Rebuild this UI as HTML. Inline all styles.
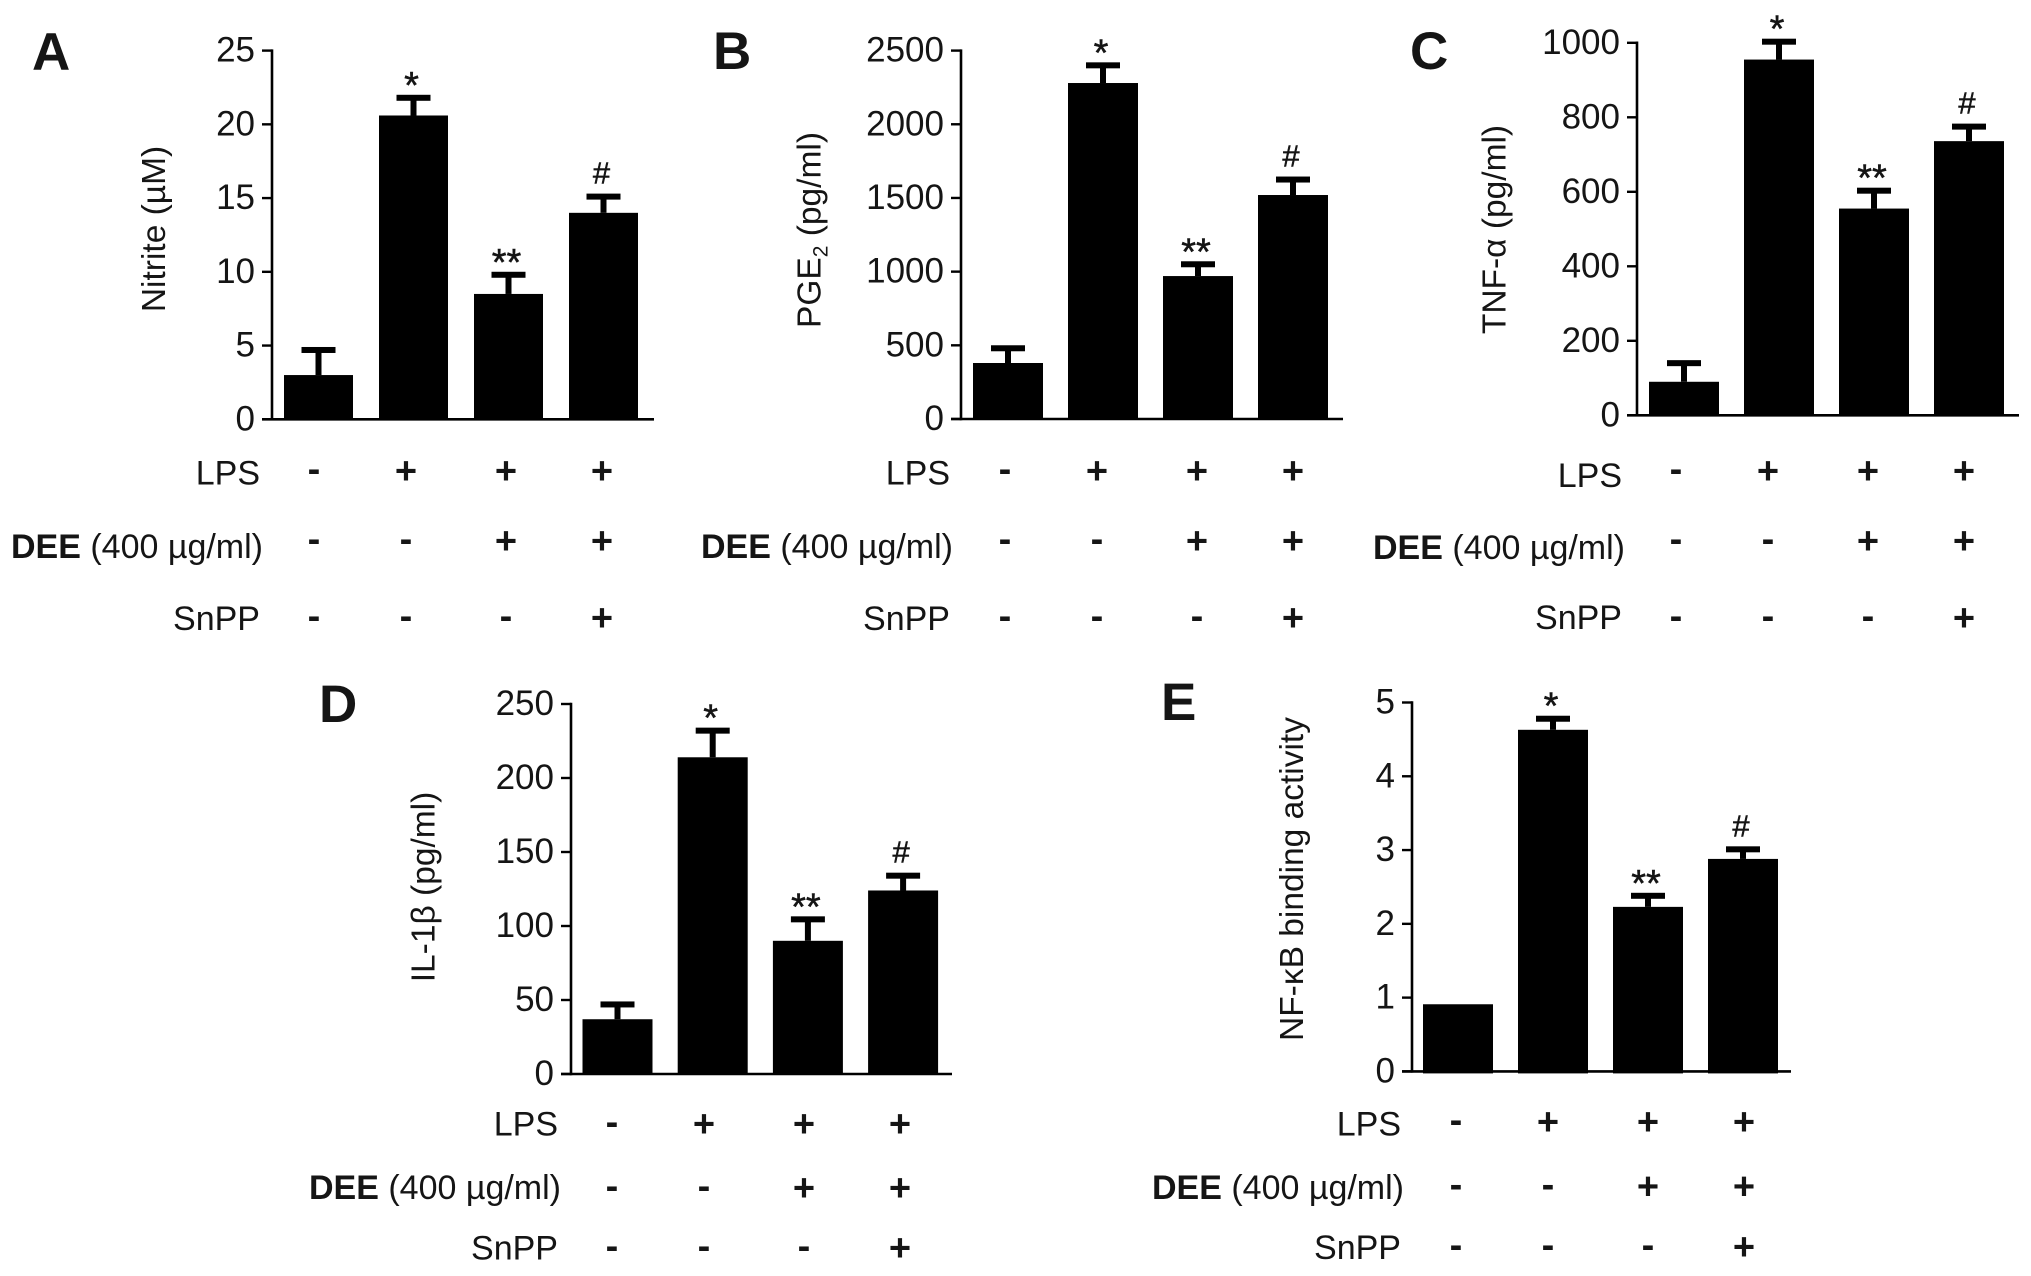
<!DOCTYPE html>
<html lang="en">
<head>
<meta charset="utf-8">
<title>Effects of DEE on inflammatory mediators</title>
<style>
html,body{margin:0;padding:0;background:#fff;}
svg{display:block;font-family:"Liberation Sans",sans-serif;fill:#151515;}
</style>
</head>
<body>
<svg id="figure" xmlns="http://www.w3.org/2000/svg" width="2031" height="1276" viewBox="0 0 2031 1276"></svg>
<script>
const treatmentGroups = ['control', 'lps', 'lps-dee', 'lps-dee-snpp'];
const lpsSigns = ['-', '+', '+', '+'];
const deeSigns = ['-', '-', '+', '+'];
const snppSigns = ['-', '-', '-', '+'];
const significanceMarks = ['', '*', '**', '#'];

const nitriteValues = [3, 20.6, 8.5, 14];
const nitriteErrors = [1.7, 1.2, 1.3, 1.1];
const nitriteTicks = [0, 5, 10, 15, 20, 25];

const pgeValues = [380, 2280, 970, 1520];
const pgeErrors = [100, 120, 80, 105];
const pgeTicks = [0, 500, 1000, 1500, 2000, 2500];

const tnfValues = [90, 955, 555, 736];
const tnfErrors = [50, 48, 48, 39];
const tnfTicks = [0, 200, 400, 600, 800, 1000];

const il1Values = [37, 214, 90, 124];
const il1Errors = [10, 18, 14.5, 10];
const il1Ticks = [0, 50, 100, 150, 200, 250];

const nfkbValues = [0.91, 4.63, 2.23, 2.88];
const nfkbErrors = [0, 0.15, 0.15, 0.13];
const nfkbTicks = [0, 1, 2, 3, 4, 5];

const panels = [
  {id:'a', letter:'A', letterX:32, letterY:70, values:nitriteValues, errors:nitriteErrors, ticks:nitriteTicks,
   axisX:272, yTop:50.6, yZero:419.3, axisRight:654, barStart:284, barStep:95, barWidth:69, barDrop:0,
   titleA:'Nitrite (µM)', titleSub:'', titleB:'', titleX:165, titleY:229,
   signStart:314, lpsY:471, deeY:541, snppY:618, labelRight:260, lpsBase:484.5, deeBase:558, snppBase:630},
  {id:'b', letter:'B', letterX:713, letterY:69, values:pgeValues, errors:pgeErrors, ticks:pgeTicks,
   axisX:961, yTop:50.6, yZero:419, axisRight:1343, barStart:973, barStep:95, barWidth:70, barDrop:0,
   titleA:'PGE', titleSub:'2', titleB:' (pg/ml)', titleX:820.5, titleY:230,
   signStart:1005, lpsY:471, deeY:541, snppY:618, labelRight:950, lpsBase:484.5, deeBase:558, snppBase:630},
  {id:'c', letter:'C', letterX:1410, letterY:69, values:tnfValues, errors:tnfErrors, ticks:tnfTicks,
   axisX:1637, yTop:42.8, yZero:415.3, axisRight:2019, barStart:1649, barStep:95, barWidth:70, barDrop:0,
   titleA:'TNF-α (pg/ml)', titleSub:'', titleB:'', titleX:1505.5, titleY:229.5,
   signStart:1676, lpsY:471, deeY:541, snppY:618, labelRight:1622, lpsBase:487, deeBase:559, snppBase:629},
  {id:'d', letter:'D', letterX:319, letterY:722, values:il1Values, errors:il1Errors, ticks:il1Ticks,
   axisX:571, yTop:704, yZero:1074, axisRight:952, barStart:582.5, barStep:95.2, barWidth:70, barDrop:0,
   titleA:'IL-1β (pg/ml)', titleSub:'', titleB:'', titleX:434.5, titleY:887,
   signStart:612, lpsY:1124, deeY:1188, snppY:1248, labelRight:558, lpsBase:1135.5, deeBase:1199, snppBase:1259.5},
  {id:'e', letter:'E', letterX:1161, letterY:720, values:nfkbValues, errors:nfkbErrors, ticks:nfkbTicks,
   axisX:1412, yTop:702.5, yZero:1071.4, axisRight:1791, barStart:1423, barStep:95, barWidth:70, barDrop:2,
   titleA:'NF-κB binding activity', titleSub:'', titleB:'', titleX:1303, titleY:879,
   signStart:1456, lpsY:1122, deeY:1186.5, snppY:1247, labelRight:1401, lpsBase:1135.5, deeBase:1199, snppBase:1259}
];

const SVG_NS = 'http://www.w3.org/2000/svg';
const figure = document.getElementById('figure');

function make(parent, tag, attrs, text) {
  const node = document.createElementNS(SVG_NS, tag);
  for (const key in attrs) node.setAttribute(key, attrs[key]);
  if (text !== undefined) node.textContent = text;
  parent.appendChild(node);
  return node;
}

function drawSignRow(group, p, signs, rowKey, centerY) {
  signs.forEach(function (sign, i) {
    const nudge = i === 1 ? -4 : 0;
    const x = p.signStart + 96 * i + nudge;
    const size = 38;
    const baseline = sign === '+' ? centerY + 0.33 * size : centerY + 0.28 * size;
    const el = make(group, 'text', {x: x, y: baseline, 'font-size': size, 'font-weight': 'bold', 'text-anchor': 'middle'}, sign);
    
    
  });
}

panels.forEach(function (p) {
  const maxTick = p.ticks[p.ticks.length - 1];
  const yScale = function (v) { return p.yZero - (v / maxTick) * (p.yZero - p.yTop); };
  const barLeft = function (i) { return p.barStart + p.barStep * i; };

  const group = make(figure, 'g', {});
  
  

  const letter = make(group, 'text', {x: p.letterX, y: p.letterY, 'font-size': 53, 'font-weight': 'bold'}, p.letter);
  
  

  const title = make(group, 'text', {
    'font-size': 33.5, 'text-anchor': 'middle',
    transform: 'translate(' + p.titleX + ',' + p.titleY + ') rotate(-90)'
  });
  
  
  make(title, 'tspan', {}, p.titleA);
  if (p.titleSub) {
    make(title, 'tspan', {'font-size': 21, dy: 7}, p.titleSub);
    make(title, 'tspan', {dy: -7}, p.titleB);
  }

  p.values.forEach(function (value, i) {
    const left = barLeft(i);
    const center = left + p.barWidth / 2;
    const topY = yScale(value + p.errors[i]);
    if (p.errors[i] > 0) {
      const stem = make(group, 'rect', {x: center - 3, y: topY, width: 6, height: yScale(value) - topY, fill: '#000'});
      
      
      const cap = make(group, 'rect', {x: center - 17, y: topY - 3, width: 34, height: 6, fill: '#000'});
      
      
    }
    const bar = make(group, 'rect', {x: left, y: yScale(value), width: p.barWidth, height: yScale(0) - yScale(value) + p.barDrop, fill: '#000'});
    
    

    const mark = significanceMarks[i];
    if (mark) {
      const isHash = mark === '#';
      const size = isHash ? 31 : 38;
      const baseline = isHash ? topY - 13 : topY;
      const note = make(group, 'text', {x: center - 2, y: baseline, 'font-size': size, 'text-anchor': 'middle', stroke: '#151515', 'stroke-width': 0.5}, mark);
      
      
    }
  });

  const yAxis = make(group, 'line', {x1: p.axisX, x2: p.axisX, y1: p.yTop - 1.25, y2: p.yZero + 1.25, stroke: '#000', 'stroke-width': 2.6});
  
  
  const xAxis = make(group, 'line', {x1: p.axisX - 10, x2: p.axisRight, y1: p.yZero, y2: p.yZero, stroke: '#000', 'stroke-width': 2.6});
  
  

  p.ticks.forEach(function (t) {
    const y = yScale(t);
    const tick = make(group, 'line', {x1: p.axisX - 10, x2: p.axisX, y1: y, y2: y, stroke: '#000', 'stroke-width': 2.4});
    
    
    const label = make(group, 'text', {x: p.axisX - 17, y: y + 11, 'font-size': 35, 'text-anchor': 'end'}, String(t));
    
    
  });

  const lpsLabel = make(group, 'text', {x: p.labelRight, y: p.lpsBase, 'font-size': 34, 'text-anchor': 'end'}, 'LPS');
  
  

  const deeLabel = make(group, 'text', {x: p.labelRight + 3, y: p.deeBase, 'font-size': 34, 'text-anchor': 'end'});
  
  
  make(deeLabel, 'tspan', {'font-weight': 'bold'}, 'DEE');
  make(deeLabel, 'tspan', {}, ' (400 µg/ml)');

  const snppLabel = make(group, 'text', {x: p.labelRight, y: p.snppBase, 'font-size': 34, 'text-anchor': 'end'}, 'SnPP');
  
  

  drawSignRow(group, p, lpsSigns, 'lps', p.lpsY);
  drawSignRow(group, p, deeSigns, 'dee', p.deeY);
  drawSignRow(group, p, snppSigns, 'snpp', p.snppY);
});
</script>
</body>
</html>
